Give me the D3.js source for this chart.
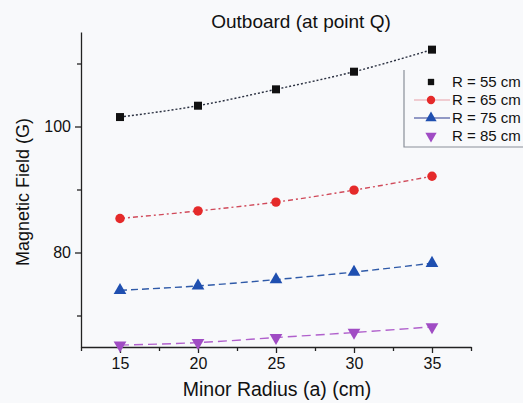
<!DOCTYPE html>
<html>
<head>
<meta charset="utf-8">
<style>
  html, body { margin: 0; padding: 0; background: #f8f9fb; }
  svg { display: block; font-family: "Liberation Sans", Arial, sans-serif; }
  .axis path, .axis line { stroke: #222; stroke-width: 1.3px; }
  .axis text { fill: #111; }
</style>
<script src="https://d3js.org/d3.v7.min.js"></script>
</head>
<body>
<div id="chart"></div>
<script>
// data
var radii = [15, 20, 25, 30, 35];
var r55 = [101.5, 103.3, 105.9, 108.7, 112.2];
var r65 = [85.4, 86.6, 88.0, 89.9, 92.1];
var r75 = [74.0, 74.7, 75.7, 76.9, 78.3];
var r85 = [65.3, 65.7, 66.5, 67.3, 68.2];
var seriesNames = ["R = 55 cm", "R = 65 cm", "R = 75 cm", "R = 85 cm"];
var xTicks = [15, 20, 25, 30, 35];
var yTicks = [80, 100];

var W = 523, H = 403;
var margin = { left: 81, right: 52, top: 32, bottom: 56 };

var svg = d3.select("#chart").append("svg")
    .attr("width", W).attr("height", H);

var x = d3.scaleLinear().domain([12.5, 37.5]).range([margin.left, W - margin.right]);
var y = d3.scaleLinear().domain([65, 115]).range([H - margin.bottom, margin.top]);

// minor ticks first, then the main axes
svg.append("g").attr("class", "axis")
    .attr("transform", "translate(0," + (H - margin.bottom) + ")")
    .call(d3.axisBottom(x).tickValues([12.5, 17.5, 22.5, 27.5, 32.5, 37.5]).tickSize(4).tickFormat(""))
    .select(".domain").remove();
svg.append("g").attr("class", "axis")
    .attr("transform", "translate(" + margin.left + ",0)")
    .call(d3.axisLeft(y).tickValues([70, 90, 110]).tickSize(4).tickFormat(""))
    .select(".domain").remove();

svg.append("g").attr("class", "axis")
    .attr("transform", "translate(0," + (H - margin.bottom) + ")")
    .call(d3.axisBottom(x).tickValues(xTicks).tickSize(6).tickSizeOuter(0).tickPadding(5))
    .selectAll("text").attr("font-size", 16);
svg.append("g").attr("class", "axis")
    .attr("transform", "translate(" + margin.left + ",0)")
    .call(d3.axisLeft(y).tickValues(yTicks).tickSize(6).tickSizeOuter(0).tickPadding(4))
    .selectAll("text").attr("font-size", 16);

var series = [
  { name: seriesNames[0], values: r55, color: "#111111", line: "#2a3040", dash: "2,2", shape: d3.symbolSquare, size: 64, rot: 0 },
  { name: seriesNames[1], values: r65, color: "#e52a2a", line: "#d04a5a", dash: "5,3,2,3", shape: d3.symbolCircle, size: 70, rot: 0 },
  { name: seriesNames[2], values: r75, color: "#1f4fb0", line: "#2f5aa8", dash: "7,4", shape: d3.symbolTriangle, size: 70, rot: 0 },
  { name: seriesNames[3], values: r85, color: "#a04cc4", line: "#b060cc", dash: "9,5", shape: d3.symbolTriangle, size: 70, rot: 180 }
];

var line = d3.line()
    .x(function (d, i) { return x(radii[i]); })
    .y(function (d) { return y(d); })
    .curve(d3.curveMonotoneX);

series.forEach(function (s) {
  svg.append("path")
      .attr("d", line(s.values))
      .attr("fill", "none")
      .attr("stroke", s.line)
      .attr("stroke-width", 1.4)
      .attr("stroke-dasharray", s.dash);

  svg.selectAll(null)
      .data(s.values)
      .enter().append("path")
      .attr("d", d3.symbol().type(s.shape).size(s.size))
      .attr("transform", function (d, i) {
        return "translate(" + x(radii[i]) + "," + y(d) + ") rotate(" + s.rot + ")";
      })
      .attr("fill", s.color);
});

// legend
var lg = svg.append("g").attr("transform", "translate(404,70)");
lg.append("path")
    .attr("d", "M0,0 V77 H125")
    .attr("fill", "none").attr("stroke", "#8a8f99").attr("stroke-width", 1.2);
series.forEach(function (s, i) {
  var ly = 12 + i * 18;
  if (i === 1 || i === 2) {
    lg.append("line")
        .attr("x1", 10).attr("x2", 46).attr("y1", ly).attr("y2", ly)
        .attr("stroke", i === 1 ? "#e8a0a8" : "#2a3a90").attr("stroke-width", 1.2);
  }
  lg.append("path")
      .attr("d", d3.symbol().type(s.shape).size(i === 0 ? 40 : 55))
      .attr("transform", "translate(27," + ly + ") rotate(" + s.rot + ")")
      .attr("fill", s.color);
  lg.append("text")
      .attr("x", 48).attr("y", ly + 5)
      .attr("font-size", 15).attr("fill", "#111")
      .text(s.name);
});

// titles
svg.append("text")
    .attr("x", 301).attr("y", 28)
    .attr("text-anchor", "middle").attr("font-size", 19).attr("fill", "#111")
    .text("Outboard (at point Q)");
svg.append("text")
    .attr("x", 277).attr("y", 396)
    .attr("text-anchor", "middle").attr("font-size", 19.5).attr("fill", "#111")
    .text("Minor Radius (a) (cm)");
svg.append("text")
    .attr("transform", "translate(29,192) rotate(-90)")
    .attr("text-anchor", "middle").attr("font-size", 18).attr("fill", "#111")
    .text("Magnetic Field (G)");
</script>
</body>
</html>
